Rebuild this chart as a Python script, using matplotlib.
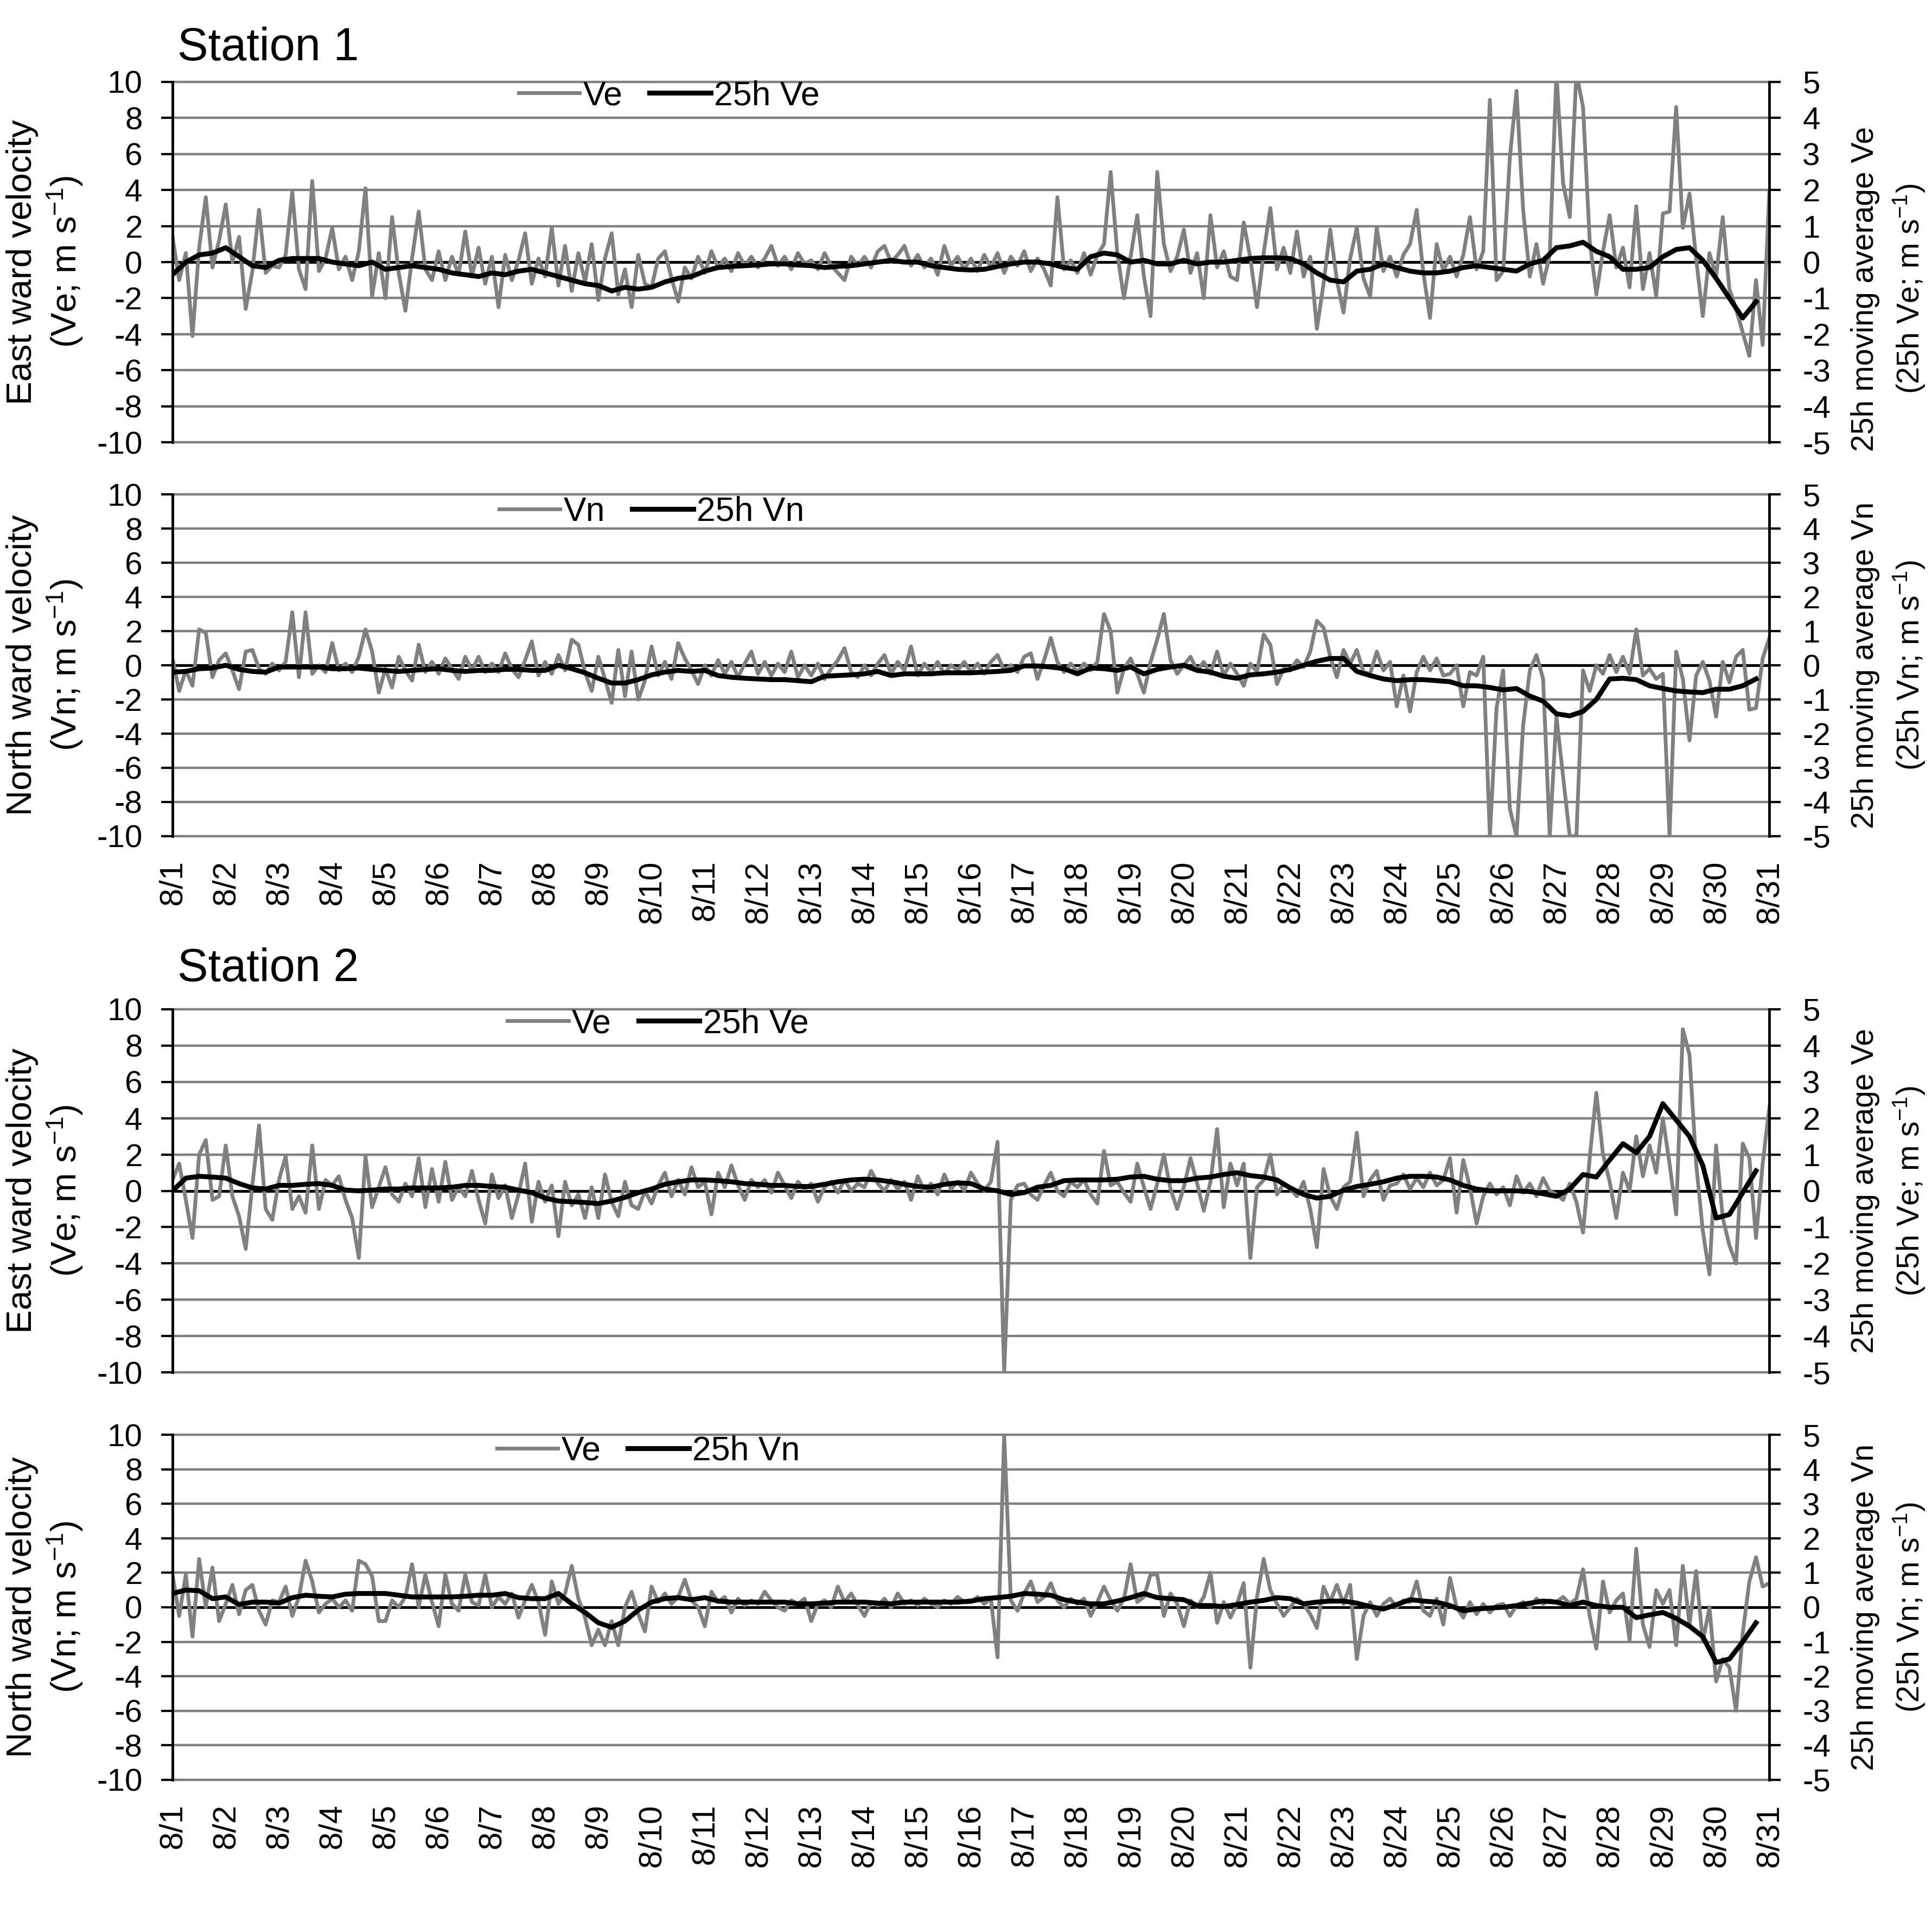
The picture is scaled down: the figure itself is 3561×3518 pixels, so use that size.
import numpy as np
import matplotlib
matplotlib.use("Agg")
import matplotlib.pyplot as plt
from matplotlib.lines import Line2D

plt.rcParams['font.family'] = ['Liberation Sans', 'DejaVu Sans']
plt.rcParams['mathtext.default'] = 'regular'
plt.rcParams['axes.unicode_minus'] = False

# ---------------- data ----------------
days = list(range(1, 32))
day_labels = [f"8/{d}" for d in days]

# Gray series: 3-hourly samples from 8/1 00:00 to 8/31 00:00 (m/s, left axis)
s1_ve = [
    1.4, -1.0, 0.5, -4.1, 0.8, 3.6, -0.3, 1.2,
    3.2, 0.0, 1.4, -2.6, -0.5, 2.9, -0.6, -0.2,
    -0.3, 0.4, 3.9, -0.4, -1.5, 4.5, -0.5, 0.2,
    1.9, -0.4, 0.3, -1.0, 0.6, 4.1, -1.9, 0.5,
    -2.0, 2.5, -0.6, -2.7, 0.2, 2.8, -0.4, -1.0,
    0.6, -1.0, 0.3, -0.7, 1.7, -0.8, 0.8, -1.2,
    0.3, -2.5, 0.4, -1.0, 0.1, 1.6, -1.2, 0.2,
    -0.8, 1.9, -1.3, 0.9, -1.6, 0.5, -1.1, 1.0,
    -2.1, 0.2, 1.6, -1.8, -0.4, -2.5, 0.4, -1.2,
    -1.4, 0.2, 0.6, -0.9, -2.2, -0.3, -0.9, 0.3,
    -0.6, 0.6, -0.3, 0.2, -0.5, 0.5, -0.2, 0.3,
    -0.3, 0.2, 0.9, -0.2, 0.3, -0.4, 0.5, -0.1,
    0.1, -0.4, 0.5, -0.2, -0.6, -1.0, 0.3, -0.2,
    0.3, -0.3, 0.6, 0.9, 0.0, 0.4, 0.9, -0.2,
    0.4, -0.3, 0.2, -0.7, 0.9, -0.2, 0.3, -0.4,
    0.2, -0.5, 0.4, -0.3, 0.5, -0.6, 0.3, -0.2,
    0.6, -0.5, 0.2, -0.4, -1.3, 3.6, -0.4, 0.1,
    -0.6, 0.5, -0.7, 0.4, 1.0, 5.0, 0.5, -2.0,
    0.3, 2.6, -0.8, -3.0, 5.0, 1.0, -0.5, 0.3,
    1.8, -0.6, 0.5, -2.0, 2.6, -0.3, 0.6, -0.8,
    -1.0, 2.2, 0.2, -2.5, 0.5, 3.0, -0.4, 0.8,
    -0.6, 1.7, -0.8, 0.3, -3.7, -1.2, 1.8, -1.0,
    -2.8, 0.2, 1.9, -0.9, -1.9, 1.9, -0.5, 0.3,
    -0.8, 0.4, 1.0, 2.9, -0.6, -3.1, 1.0, -0.5,
    0.3, -0.8, 0.4, 2.5, -0.4, 0.6, 9.0, -1.0,
    -0.5, 5.8, 9.5, 2.9, -0.8, 1.0, -1.2, 0.4,
    10.5, 4.4, 2.5, 10.5, 8.6, 1.2, -1.8, 0.6,
    2.6, -0.3, 0.8, -1.4, 3.1, -1.5, 0.5, -1.9,
    2.7, 2.8, 8.6, 1.9, 3.8, 0.2, -3.0, 0.5,
    -0.8, 2.5, -1.5, -2.6, -3.9, -5.2, -1.0, -4.6,
    3.9,
]

s1_vn = [
    0.4, -1.5, -0.3, -1.2, 2.1, 1.9, -0.7, 0.3,
    0.7, -0.3, -1.4, 0.8, 0.9, -0.2, -0.5, 0.1,
    -0.3, 0.2, 3.1, -0.7, 3.1, -0.5, 0.0, -0.4,
    1.3, -0.3, 0.1, -0.4, 0.5, 2.1, 0.8, -1.6,
    -0.2, -1.3, 0.5, -0.3, -0.9, 1.2, -0.4, 0.2,
    -0.5, 0.4, -0.2, -0.8, 0.5, -0.3, 0.5, -0.4,
    0.1, -0.4, 0.7, -0.2, -0.7, 0.3, 1.4, -0.6,
    0.2, -0.5, 0.6, -0.3, 1.5, 1.2, -0.4, -1.5,
    0.5, -0.8, -2.2, 0.9, -1.8, 0.8, -2.0, -0.9,
    1.1, -0.6, 0.2, -0.8, 1.3, 0.4, -0.3, -1.1,
    0.0, -0.6, 0.3, -0.5, 0.2, -0.7, 0.1, 0.8,
    -0.5, 0.2, -0.6, 0.1, -0.4, 0.8, -0.7, 0.0,
    -0.6, 0.1, -0.8, -0.2, 0.3, 1.0, -0.4, -0.7,
    0.0, -0.6, 0.1, 0.6, -0.5, 0.2, -0.3, 1.1,
    -0.6, 0.1, -0.4, 0.2, -0.5, 0.0, -0.3, 0.2,
    -0.4, 0.1, -0.5, 0.2, 0.6, -0.3, 0.0, -0.4,
    0.5, 0.7, -0.8, 0.3, 1.6, 0.2, -0.4, 0.1,
    -0.4, 0.1, -0.3, 0.2, 3.0, 2.0, -1.6, -0.2,
    0.4, -0.5, -1.6, 0.2, 1.5, 3.0, 0.3, -0.5,
    0.0, 0.5, -0.3, 0.2, -0.5, 0.8, -0.6, 0.1,
    -0.5, -1.2, 0.1, -0.4, 1.8, 1.2, -1.1, -0.2,
    -0.3, 0.3, -0.1, 0.8, 2.6, 2.2, 0.5, -0.7,
    0.9, 0.1, 0.9, -0.4, -0.5, 0.8, -0.3, 0.2,
    -2.4, -0.6, -2.7, -0.4, 0.5, -0.3, 0.4, -0.6,
    -0.5, 0.0, -2.4, -0.4, -0.6, 0.5, -10.0, -2.5,
    -0.3, -8.4, -10.0, -3.5, -0.3, 0.6, -0.8, -10.0,
    -3.0, -6.5, -10.0, -10.0, -0.3, -1.5, 0.0, -0.5,
    0.6, -0.4, 0.5, -0.5, 2.1, -0.6, -0.2, -0.8,
    -0.5, -10.0, 0.8, -0.8, -4.4, -0.6, 0.2, -0.9,
    -3.0, 0.2, -1.0, 0.5, 0.9, -2.6, -2.5, 0.4,
    1.6,
]

s2_ve = [
    0.6, 1.5, -0.5, -2.6, 2.0, 2.8, -0.5, -0.3,
    2.5, -0.3, -1.4, -3.2, 0.3, 3.6, -1.0, -1.6,
    0.6, 1.9, -1.0, -0.3, -1.2, 2.5, -1.0, 0.6,
    0.3, 0.8, -0.5, -1.5, -3.7, 1.9, -0.9, 0.2,
    1.3, -0.2, -0.6, 0.4, -0.3, 1.8, -0.9, 1.2,
    -0.6, 1.6, -0.5, 0.2, -0.3, 1.1, -0.5, -1.8,
    0.9, -0.4, 0.3, -1.5, -0.2, 1.5, -1.7, 0.5,
    -0.6, 0.3, -2.5, 0.5, -0.8, -0.2, -1.5, 0.2,
    -1.5, 0.9, -0.6, -1.4, 0.5, -0.8, -1.0, 0.0,
    -0.7, 0.3, 1.0, -0.3, 0.6, -0.2, 1.3, 0.2,
    0.5, -1.3, 1.0, 0.2, 1.4, 0.3, -0.5, 0.6,
    0.2, 0.6, -0.1, 1.0, 0.3, -0.4, 0.5, 0.1,
    0.4, -0.6, 0.2, 0.5, -0.1, 0.6, 0.0, 0.4,
    0.2, 1.1, 0.4, 0.0, 0.6, 0.1, 0.5, -0.5,
    0.8, 0.0, 0.4, -0.2, 0.9, 0.1, 0.5, 0.0,
    1.0, 0.4, 0.0, 0.5, 2.7, -10.0, -0.5, 0.3,
    0.4, -0.2, -0.5, 0.3, 1.0, 0.0, -0.3, 0.5,
    0.2, 0.6, -0.2, -0.7, 2.2, 0.3, 0.5, -0.1,
    -0.6, 1.5, 0.2, -1.0, 0.4, 2.0, 0.1, -1.0,
    0.2, 1.8, 0.4, -1.1, 0.5, 3.4, -0.9, 1.5,
    0.3, 1.5, -3.7, 0.2, 0.6, 2.0, -0.2, 0.4,
    0.1, -0.3, 0.5, -1.0, -3.1, 1.2, -0.3, -1.0,
    0.2, 0.5, 3.2, -0.3, 0.6, 1.1, -0.5, 0.3,
    0.4, 0.9, 0.1, 0.7, 0.2, 1.0, 0.3, 0.6,
    1.8, -1.2, 1.7, 0.2, -1.8, -0.3, 0.4, -0.2,
    0.2, -0.8, 0.8, -0.1, 0.4, -0.3, 0.7, 0.0,
    -0.2, -0.5, 0.4, -0.6, -2.3, 1.8, 5.4, 2.0,
    0.5, -1.5, 1.0, 0.0, 3.0, 0.8, 2.5, 1.0,
    4.0, 1.5, -1.3, 8.9, 7.5, 1.5, -2.2, -4.6,
    2.5, -1.5, -3.0, -4.0, 2.6, 1.8, -2.6, 1.5,
    4.6,
]

s2_vn = [
    1.9, -0.5, 1.9, -1.7, 2.8, 0.0, 2.3, -0.8,
    0.2, 1.3, -0.4, 1.0, 1.3, -0.2, -1.0, 0.4,
    0.3, 1.2, -0.5, 0.6, 2.7, 1.5, -0.3, 0.2,
    0.5, 0.0, 0.4, -0.2, 2.7, 2.5, 1.8, -0.8,
    -0.8, 0.4, 0.0, 0.6, 2.5, 0.0, 1.9, 0.3,
    -1.1, 1.9, 0.2, -0.2, 1.9, 0.3, 0.1, 1.9,
    0.0, 0.6, 0.2, 0.8, -0.6, 0.4, 1.3, 0.3,
    -1.6, 1.5, 0.2, 0.8, 2.4, 0.5, -0.6, -2.2,
    -1.3, -2.2, -0.8, -2.2, 0.0, 0.9, -0.4, -1.4,
    1.2, 0.3, 0.8, 0.2, 0.6, 1.6, 0.4, 0.0,
    -1.1, 0.9, 0.3, 0.6, -0.3, 0.5, 0.1, 0.4,
    0.2, 0.9, 0.4, 0.0, -0.2, 0.4, 0.2, 0.5,
    -0.8, 0.2, 0.4, 0.0, 1.2, 0.3, 0.8, 0.1,
    -0.5, 0.3, 0.1, 0.5, 0.0, 0.8, 0.2, 0.4,
    0.1, 0.5, 0.2, 0.0, 0.4, 0.2, 0.6, 0.3,
    0.3, 0.6, 0.2, 0.5, -2.9, 10.0, 0.4, -0.2,
    0.8, 1.5, 0.3, 0.6, 1.4, 0.4, 0.0, 0.5,
    0.2, 0.5, -0.5, 0.3, 1.2, 0.4, -0.2, 0.5,
    2.5, 0.3, 0.6, 1.9, 1.9, -0.5, 0.8, 0.2,
    -1.1, 0.4, 0.0, 0.6, 2.0, -0.9, 0.3, -0.6,
    0.2, 1.4, -3.5, 0.6, 2.8, 1.0, 0.2, -0.5,
    0.0, 0.5, 0.2, -0.4, -1.2, 1.2, 0.3, 1.3,
    0.2, 1.3, -3.0, -0.5, 0.3, -0.5, 0.2, 0.5,
    0.0, 0.4, 0.3, 1.5, -0.2, -0.5, 0.5, -1.0,
    1.7, 0.0, -0.6, 0.3, -0.4, 0.2, -0.3, 0.1,
    0.2, -0.5, 0.1, 0.3, 0.0, 0.5, 0.2, 0.4,
    0.3, 0.6, 0.2, 0.5, 2.2, -0.5, -2.4, 1.5,
    -0.3, 0.4, 0.8, -1.9, 3.4, -1.0, -2.3, 1.0,
    0.2, 1.0, -2.2, 2.4, -1.0, 2.1, -2.0, 0.0,
    -4.3, -3.0, -3.5, -6.0, -1.5, 1.5, 2.9, 1.2,
    1.4,
]

# 25 h moving averages: 6-hourly samples from 8/1 00:00 (m/s, right axis)
s1_ve25 = [
    -0.35, 0.0, 0.2, 0.25, 0.4, 0.15, -0.1, -0.15,
    0.05, 0.1, 0.1, 0.1, 0.0, -0.05, -0.1, 0.0,
    -0.2, -0.15, -0.1, -0.15, -0.2, -0.3, -0.35, -0.4,
    -0.3, -0.35, -0.25, -0.2, -0.3, -0.4, -0.5, -0.6,
    -0.65, -0.8, -0.7, -0.75, -0.7, -0.55, -0.45, -0.4,
    -0.25, -0.15, -0.12, -0.1, -0.08, -0.05, -0.05, -0.08,
    -0.1, -0.15, -0.12, -0.1, -0.05, 0.0, 0.05, 0.0,
    0.0, -0.1, -0.15, -0.2, -0.22, -0.2, -0.12, -0.05,
    0.0, 0.0, -0.05, -0.15, -0.2, 0.15, 0.25, 0.2,
    0.0, 0.05, -0.05, -0.05, 0.05, -0.05, 0.0, 0.0,
    0.05, 0.1, 0.12, 0.12, 0.1, -0.05, -0.3, -0.5,
    -0.55, -0.25, -0.2, -0.05, -0.15, -0.25, -0.3, -0.3,
    -0.25, -0.15, -0.1, -0.15, -0.2, -0.25, -0.05, 0.05,
    0.4, 0.45, 0.55, 0.3, 0.15, -0.2, -0.2, -0.15,
    0.15, 0.35, 0.4, 0.05, -0.45, -1.0, -1.55, -1.1,
]

s1_vn25 = [
    -0.2, -0.18, -0.1, -0.08, 0.0, -0.12, -0.18, -0.2,
    -0.05, -0.05, -0.05, -0.05, -0.1, -0.1, -0.08, -0.12,
    -0.15, -0.18, -0.15, -0.12, -0.1, -0.15, -0.18, -0.15,
    -0.15, -0.12, -0.12, -0.15, -0.15, 0.0, -0.1, -0.22,
    -0.38, -0.52, -0.52, -0.42, -0.28, -0.2, -0.15, -0.18,
    -0.15, -0.3, -0.35, -0.38, -0.4, -0.42, -0.42, -0.45,
    -0.48, -0.32, -0.3, -0.28, -0.25, -0.18, -0.3, -0.25,
    -0.25, -0.25, -0.22, -0.22, -0.22, -0.2, -0.18, -0.15,
    -0.02, -0.02, -0.05, -0.1, -0.25, -0.08, -0.1, -0.15,
    -0.05, -0.25, -0.12, -0.05, 0.0, -0.15, -0.2, -0.32,
    -0.38, -0.28, -0.25, -0.2, -0.12, 0.0, 0.12, 0.2,
    0.2, -0.18, -0.3, -0.4, -0.45, -0.42, -0.42, -0.45,
    -0.48, -0.6, -0.6, -0.65, -0.72, -0.68, -0.9, -1.05,
    -1.42, -1.48, -1.35, -1.0, -0.4, -0.38, -0.42, -0.6,
    -0.68, -0.75, -0.78, -0.8, -0.7, -0.7, -0.6, -0.4,
]

s2_ve25 = [
    0.0, 0.35, 0.4, 0.38, 0.35, 0.2, 0.08, 0.05,
    0.15, 0.15, 0.18, 0.2, 0.15, 0.02, 0.0, 0.02,
    0.05, 0.05, 0.08, 0.08, 0.08, 0.1, 0.15, 0.15,
    0.12, 0.1, 0.02, -0.05, -0.2, -0.28, -0.3, -0.32,
    -0.35, -0.28, -0.18, -0.05, 0.05, 0.18, 0.25, 0.3,
    0.3, 0.28, 0.25, 0.2, 0.18, 0.15, 0.15, 0.12,
    0.12, 0.18, 0.25, 0.3, 0.32, 0.3, 0.25, 0.18,
    0.12, 0.1, 0.18, 0.22, 0.2, 0.05, 0.0, -0.1,
    -0.05, 0.1, 0.15, 0.28, 0.3, 0.3, 0.3, 0.32,
    0.38, 0.4, 0.32, 0.28, 0.28, 0.35, 0.38, 0.45,
    0.5, 0.42, 0.38, 0.3, 0.08, -0.1, -0.2, -0.15,
    0.02, 0.12, 0.18, 0.25, 0.35, 0.4, 0.4, 0.38,
    0.3, 0.15, 0.05, 0.0, 0.0, 0.0, -0.02, -0.08,
    -0.15, 0.05, 0.45, 0.38, 0.85, 1.3, 1.05, 1.5,
    2.4, 1.95, 1.5, 0.7, -0.75, -0.65, -0.05, 0.55,
]

s2_vn25 = [
    0.4, 0.5, 0.48, 0.25, 0.3, 0.08, 0.15, 0.15,
    0.12, 0.28, 0.35, 0.32, 0.3, 0.38, 0.4, 0.4,
    0.4, 0.35, 0.3, 0.3, 0.3, 0.3, 0.32, 0.35,
    0.35, 0.4, 0.28, 0.25, 0.25, 0.4, 0.1, -0.15,
    -0.45, -0.58, -0.4, -0.08, 0.15, 0.25, 0.28, 0.22,
    0.28, 0.18, 0.15, 0.15, 0.15, 0.15, 0.15, 0.1,
    0.1, 0.12, 0.15, 0.15, 0.15, 0.12, 0.1, 0.15,
    0.15, 0.15, 0.15, 0.15, 0.18, 0.25, 0.28, 0.32,
    0.4, 0.38, 0.35, 0.22, 0.15, 0.1, 0.1, 0.18,
    0.28, 0.4, 0.28, 0.25, 0.22, 0.05, 0.05, 0.02,
    0.08, 0.15, 0.2, 0.28, 0.25, 0.1, 0.15, 0.18,
    0.18, 0.12, 0.02, -0.05, 0.08, 0.22, 0.18, 0.15,
    0.05, -0.1, -0.05, -0.02, 0.0, 0.05, 0.12, 0.18,
    0.15, 0.05, 0.15, 0.05, 0.0, 0.0, -0.3, -0.22,
    -0.15, -0.32, -0.55, -0.85, -1.6, -1.5, -1.0, -0.45,
]

left_ticks = list(range(-10, 11, 2))
right_ticks = list(range(-5, 6, 1))

# ---------------- drawing ----------------
GRAY = '#808080'
FS = 42
GRAY_LW = 5.0
BLACK_LW = 6.5

fig = plt.figure(figsize=(35.61, 35.18), dpi=100)
L, W = 0.0893, 0.8265


def panel(rect, gray, black, glab, blab, ylab, rlab, show_dates, leg_xy,
          rlab_y=0.5):
    ax = fig.add_axes(rect)
    tg = 1 + np.arange(len(gray)) / 8.0
    tb = 1 + np.arange(len(black)) / 4.0
    ax.set_xlim(1, 31)
    ax.set_ylim(-10, 10)
    ax.set_yticks(left_ticks)
    ax.set_yticklabels([str(v) for v in left_ticks])
    ax.yaxis.grid(True, color=GRAY, lw=3.2)
    ax.set_axisbelow(True)
    for gl in ax.get_ygridlines():
        gl.set_clip_on(False)
    ax.axhline(0, color='black', lw=3.6, zorder=1.5)
    ax.plot(tg, gray, color=GRAY, lw=GRAY_LW, zorder=2)
    for s in ['top', 'right', 'bottom']:
        ax.spines[s].set_visible(False)
    ax.spines['left'].set_linewidth(3.5)
    ax.tick_params(axis='y', direction='out', length=15, width=3,
                   labelsize=FS, pad=25)
    if show_dates:
        ax.set_xticks(days)
        ax.set_xticklabels(day_labels, rotation=90, va='top', ha='center')
        ax.tick_params(axis='x', length=0, labelsize=43, pad=32)
    else:
        ax.set_xticks(days)
        ax.tick_params(axis='x', length=0, labelbottom=False)
    ax.set_ylabel(ylab, fontsize=47, linespacing=1.22)
    ax.yaxis.set_label_coords(-0.0547, 0.5)

    ax2 = ax.twinx()
    ax2.set_ylim(-5, 5)
    ax2.set_yticks(right_ticks)
    ax2.set_yticklabels([str(v) for v in right_ticks])
    ax2.plot(tb, black, color='black', lw=BLACK_LW, zorder=3)
    for s in ['top', 'left', 'bottom']:
        ax2.spines[s].set_visible(False)
    ax2.spines['right'].set_linewidth(3.5)
    ax2.tick_params(axis='y', direction='out', length=15, width=3,
                    labelsize=FS, pad=29)
    ax2.set_ylabel(rlab, fontsize=41, linespacing=1.4)
    ax2.yaxis.set_label_coords(1.051, rlab_y)

    handles = [Line2D([], [], color=GRAY, lw=GRAY_LW),
               Line2D([], [], color='black', lw=BLACK_LW)]
    ax2.legend(handles, [glab, blab], loc='center', bbox_to_anchor=leg_xy,
               ncol=2, frameon=False, fontsize=45, handlelength=1.8,
               handletextpad=0.1, columnspacing=0.8, borderpad=0,
               borderaxespad=0)
    return ax, ax2


ve_lab = 'East ward velocity\n(Ve; m s$^{-1}$)'
vn_lab = 'North ward velocity\n(Vn; m s$^{-1}$)'
ve_rlab = '25h moving average Ve\n(25h Ve; m s$^{-1}$)'
vn_rlab = '25h moving average Vn\n(25h Vn; m s$^{-1}$)'

panel([L, 0.7683, W, 0.1888], s1_ve, s1_ve25, 'Ve', '25h Ve',
      ve_lab, ve_rlab, False, (0.311, 0.961), rlab_y=0.426)
panel([L, 0.5620, W, 0.1790], s1_vn, s1_vn25, 'Vn', '25h Vn',
      vn_lab, vn_rlab, True, (0.300, 0.949))
panel([L, 0.2811, W, 0.1902], s2_ve, s2_ve25, 'Ve', '25h Ve',
      ve_lab, ve_rlab, False, (0.304, 0.960))
panel([L, 0.0677, W, 0.1807], s2_vn, s2_vn25, 'Ve', '25h Vn',
      vn_lab, vn_rlab, True, (0.298, 0.953))

fig.text(0.0918, 0.9684, 'Station 1', fontsize=61, va='baseline', ha='left')
fig.text(0.0918, 0.4861, 'Station 2', fontsize=61, va='baseline', ha='left')

fig.savefig('out.png', dpi=100)
